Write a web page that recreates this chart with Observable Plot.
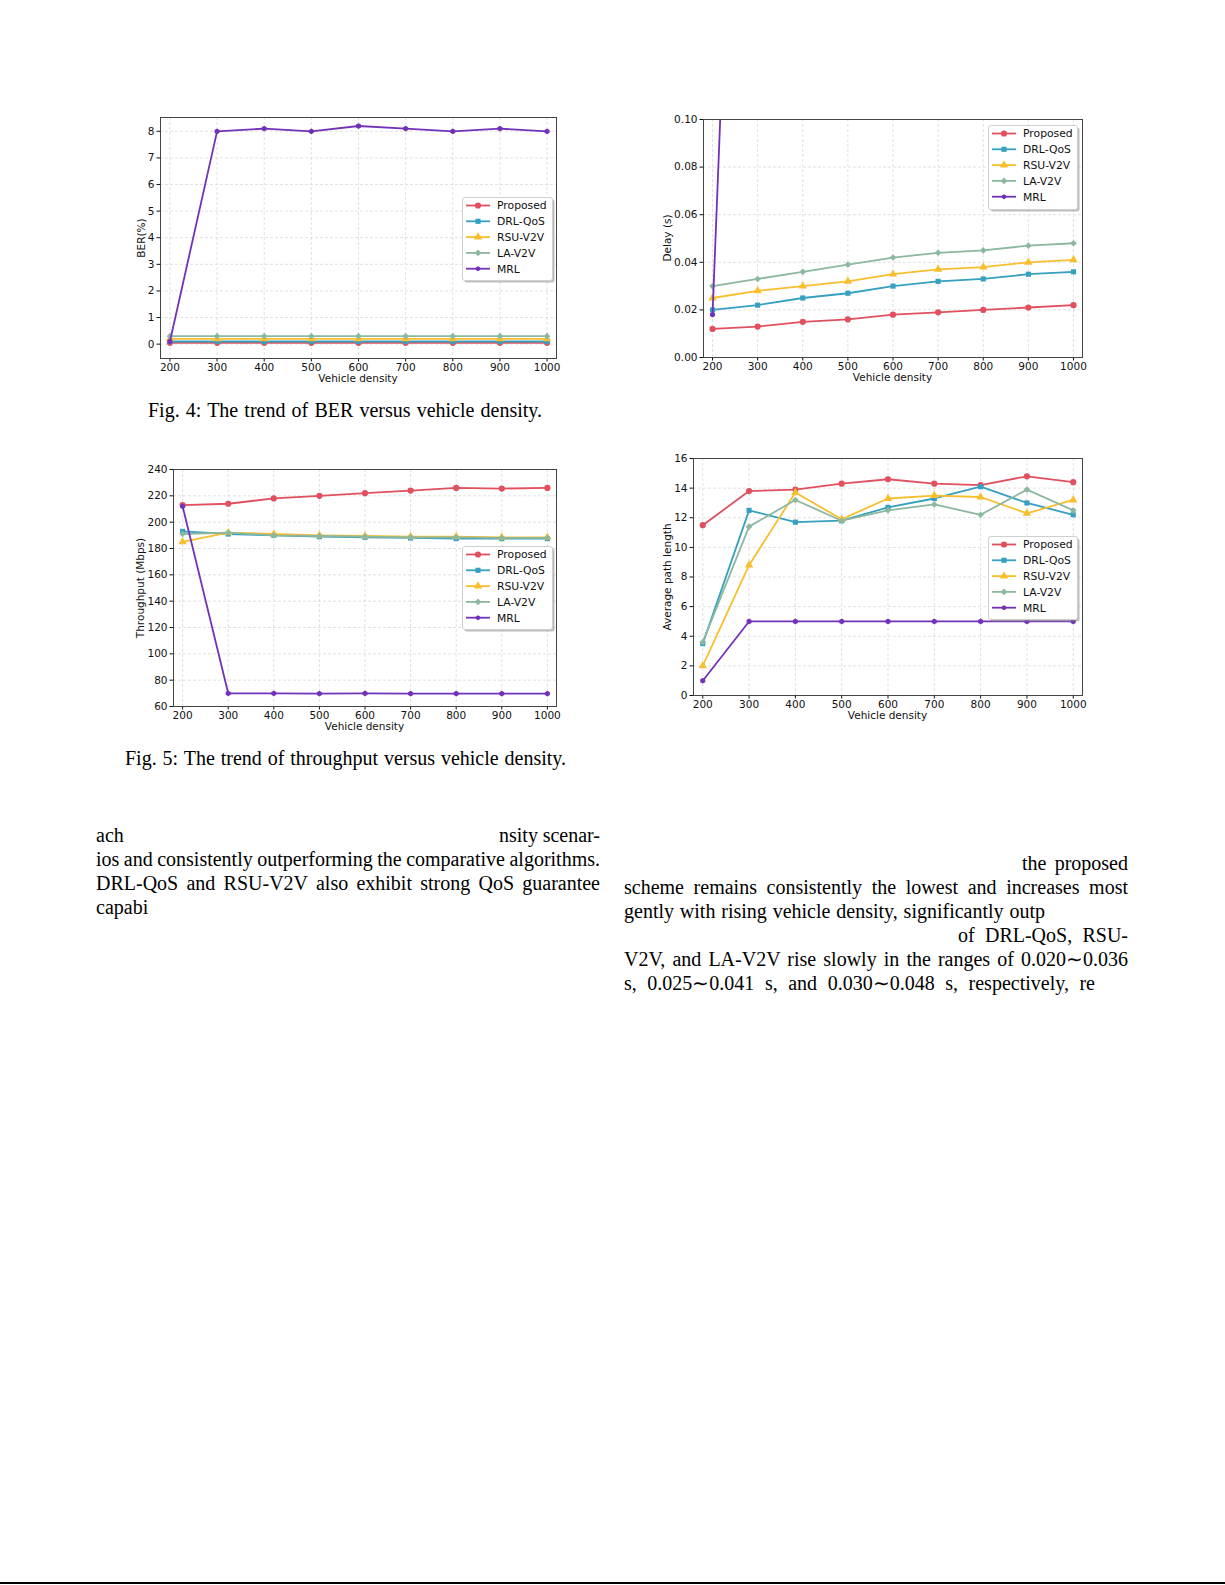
<!DOCTYPE html>
<html><head><meta charset="utf-8">
<script src="https://cdn.jsdelivr.net/npm/d3@7"></script>
<script src="https://cdn.jsdelivr.net/npm/@observablehq/plot@0.6"></script>
<style>
html,body{margin:0;padding:0;background:#fff;}
#page{position:relative;width:1225px;height:1585px;overflow:hidden;background:#fff;}
.ln{position:absolute;font-family:"Liberation Serif","Times New Roman",serif;font-size:20px;line-height:24px;height:24px;color:#000;white-space:nowrap;}
.axl{position:absolute;font-family:"DejaVu Sans",sans-serif;font-size:10.5px;color:#111;white-space:nowrap;transform:translate(-50%,-50%);}
.rot{transform:translate(-50%,-50%) rotate(-90deg);}
</style></head><body><div id="page"></div>
<script>
// ---------- data ----------
const density = [200, 300, 400, 500, 600, 700, 800, 900, 1000];
const methods = ["Proposed", "DRL-QoS", "RSU-V2V", "LA-V2V", "MRL"];

const berProposed = [0.05, 0.05, 0.05, 0.05, 0.05, 0.05, 0.05, 0.05, 0.05];
const berDRL      = [0.1, 0.1, 0.1, 0.1, 0.1, 0.1, 0.1, 0.1, 0.1];
const berRSU      = [0.2, 0.2, 0.2, 0.2, 0.2, 0.2, 0.2, 0.2, 0.2];
const berLA       = [0.3, 0.3, 0.3, 0.3, 0.3, 0.3, 0.3, 0.3, 0.3];
const berMRL      = [0.1, 8.0, 8.1, 8.0, 8.2, 8.1, 8.0, 8.1, 8.0];
const berTicks = [0, 1, 2, 3, 4, 5, 6, 7, 8];

const delayProposed = [0.012, 0.013, 0.015, 0.016, 0.018, 0.019, 0.020, 0.021, 0.022];
const delayDRL      = [0.020, 0.022, 0.025, 0.027, 0.030, 0.032, 0.033, 0.035, 0.036];
const delayRSU      = [0.025, 0.028, 0.030, 0.032, 0.035, 0.037, 0.038, 0.040, 0.041];
const delayLA       = [0.030, 0.033, 0.036, 0.039, 0.042, 0.044, 0.045, 0.047, 0.048];
const delayMRL      = [0.018, 0.5, 0.5, 0.5, 0.5, 0.5, 0.5, 0.5, 0.5];
const delayTicks = [0, 0.02, 0.04, 0.06, 0.08, 0.10];

const thrProposed = [213, 214, 218, 220, 222, 224, 226, 225.5, 226];
const thrDRL      = [193, 191, 190, 189, 188.5, 188, 187.5, 187.5, 187.5];
const thrRSU      = [185, 192, 191, 190, 189.5, 189, 189, 188.5, 188.5];
const thrLA       = [191, 192, 190, 189.5, 189, 188.5, 188.5, 188, 188];
const thrMRL      = [212, 70, 70, 69.8, 70, 69.8, 69.8, 69.8, 69.8];
const thrTicks = [60, 80, 100, 120, 140, 160, 180, 200, 220, 240];

const pathProposed = [11.5, 13.8, 13.9, 14.3, 14.6, 14.3, 14.2, 14.8, 14.4];
const pathDRL      = [3.5, 12.5, 11.7, 11.8, 12.7, 13.3, 14.1, 13.0, 12.2];
const pathRSU      = [2.0, 8.8, 13.7, 11.9, 13.3, 13.5, 13.4, 12.3, 13.2];
const pathLA       = [3.6, 11.4, 13.2, 11.8, 12.5, 12.9, 12.2, 13.9, 12.5];
const pathMRL      = [1.0, 5, 5, 5, 5, 5, 5, 5, 5];
const pathTicks = [0, 2, 4, 6, 8, 10, 12, 14, 16];

// ---------- styles ----------
const colors = ["#e0505f", "#35a0c0", "#f8be2e", "#8cb8a0", "#7232b8"];
const symbols = ["circle", "square", "triangle", "diamond2", "hexagon"];
const radii = [3.1, 2.9, 3.1, 3.0, 2.5];

const page = document.getElementById("page");

function chart(cfg) {
  const [x0, y0, x1, y1] = cfg.frame;
  const ml = 60, mr = 12, mt = 12, mb = 40;
  const w = x1 - x0, h = y1 - y0;
  const marks = [
    Plot.ruleX(density, {stroke: "#d4d4d4", strokeDasharray: "3,2", strokeWidth: 0.7}),
    Plot.ruleY(cfg.yTicks, {stroke: "#d4d4d4", strokeDasharray: "3,2", strokeWidth: 0.7})
  ];
  cfg.series.forEach((vals, i) => {
    const data = density.map((d, j) => ({x: d, y: vals[j], m: methods[i]}));
    marks.push(Plot.line(data, {x: "x", y: "y", stroke: colors[i], strokeWidth: 1.8, clip: true}));
    marks.push(Plot.dot(data, {x: "x", y: "y", fill: colors[i], stroke: "none", symbol: symbols[i], r: radii[i], clip: true}));
  });
  marks.push(Plot.frame({stroke: "#444", strokeWidth: 1}));
  const svg = Plot.plot({
    width: w + ml + mr, height: h + mt + mb,
    marginLeft: ml, marginRight: mr, marginTop: mt, marginBottom: mb,
    style: {fontFamily: "DejaVu Sans, sans-serif", fontSize: "10.5px", color: "#111", background: "transparent", overflow: "visible"},
    x: {type: "linear", domain: [180, 1020], ticks: density, tickSize: 3.5, tickPadding: 2, label: null, tickFormat: d => String(d)},
    y: {type: "linear", domain: cfg.yDomain, ticks: cfg.yTicks, tickSize: 3.5, tickPadding: 2.5, label: null, tickFormat: cfg.yFormat},
    marks
  });
  svg.style.position = "absolute";
  svg.style.left = (x0 - ml) + "px";
  svg.style.top = (y0 - mt) + "px";
  page.appendChild(svg);

  const xl = document.createElement("div");
  xl.className = "axl"; xl.textContent = "Vehicle density";
  xl.style.left = ((x0 + x1) / 2) + "px"; xl.style.top = (y1 + 20) + "px";
  page.appendChild(xl);
  const yl = document.createElement("div");
  yl.className = "axl rot"; yl.textContent = cfg.yLabel;
  yl.style.left = cfg.yLabelX + "px"; yl.style.top = ((y0 + y1) / 2) + "px";
  page.appendChild(yl);

  legend(cfg.legend);
}

const symbolHexagon = {draw(c, size) {
  const rx = Math.sqrt(size / Math.PI), ry = rx * Math.sqrt(3) / 2;
  c.moveTo(0, rx); c.lineTo(ry, rx / 2); c.lineTo(ry, -rx / 2); c.lineTo(0, -rx);
  c.lineTo(-ry, -rx / 2); c.lineTo(-ry, rx / 2); c.closePath();
}};
const symTypes = [d3.symbolCircle, d3.symbolSquare, d3.symbolTriangle, d3.symbolDiamond2, symbolHexagon];

function legend([left, top, width, height]) {
  const step = 15.8, first = 8.5;
  const svg = d3.create("svg").attr("width", width + 5).attr("height", height + 5)
    .style("position", "absolute").style("left", left + "px").style("top", top + "px").style("overflow", "visible");
  svg.append("rect").attr("x", 2.5).attr("y", 2.5).attr("width", width).attr("height", height).attr("rx", 2.5)
    .attr("fill", "#888").attr("fill-opacity", 0.55);
  svg.append("rect").attr("x", 0.5).attr("y", 0.5).attr("width", width).attr("height", height).attr("rx", 2.5)
    .attr("fill", "#fff").attr("stroke", "#cfcfcf");
  methods.forEach((m, i) => {
    const y = first + i * step;
    svg.append("line").attr("x1", 4).attr("x2", 28).attr("y1", y).attr("y2", y).attr("stroke", colors[i]).attr("stroke-width", 1.8);
    svg.append("path").attr("transform", `translate(16,${y})`)
      .attr("d", d3.symbol(symTypes[i], Math.PI * radii[i] * radii[i])()).attr("fill", colors[i]);
    svg.append("text").attr("x", 35).attr("y", y).attr("dy", "0.36em").text(m)
      .style("font-family", "DejaVu Sans, sans-serif").style("font-size", "10.8px").attr("fill", "#111");
  });
  page.appendChild(svg.node());
}

chart({frame: [160, 117, 556, 358], yDomain: [-0.54, 8.52], yTicks: berTicks, yFormat: d => String(d),
  series: [berProposed, berDRL, berRSU, berLA, berMRL], yLabel: "BER(%)", yLabelX: 141,
  legend: [462, 197, 90, 83]});
chart({frame: [703, 119, 1082, 357], yDomain: [0, 0.1], yTicks: delayTicks, yFormat: d3.format(".2f"),
  series: [delayProposed, delayDRL, delayRSU, delayLA, delayMRL], yLabel: "Delay (s)", yLabelX: 667,
  legend: [988, 125, 89, 84]});
chart({frame: [173, 469, 556, 706], yDomain: [60, 240], yTicks: thrTicks, yFormat: d => String(d),
  series: [thrProposed, thrDRL, thrRSU, thrLA, thrMRL], yLabel: "Throughput (Mbps)", yLabelX: 140,
  legend: [462, 546, 90, 83]});
chart({frame: [693, 458, 1082, 695], yDomain: [0, 16], yTicks: pathTicks, yFormat: d => String(d),
  series: [pathProposed, pathDRL, pathRSU, pathLA, pathMRL], yLabel: "Average path length", yLabelX: 667,
  legend: [988, 536, 89, 83]});

// ---------- captions and text ----------
// A line is placed at a left edge and baseline; if a width is given, word spacing
// is adjusted so the line spans exactly that width (justified).
function line(text, left, baseline, width) {
  const d = document.createElement("div");
  d.className = "ln";
  const s = document.createElement("span");
  s.textContent = text;
  d.appendChild(s);
  d.style.left = left + "px";
  d.style.top = (baseline - 19) + "px";
  page.appendChild(d);
  if (width) {
    const nat = s.getBoundingClientRect().width;
    const spaces = (text.match(/ /g) || []).length;
    if (spaces > 0) d.style.wordSpacing = ((width - nat) / spaces) + "px";
  }
}
line("Fig. 4: The trend of BER versus vehicle density.", 148, 417, 394);
line("Fig. 5: The trend of throughput versus vehicle density.", 125, 765, 441);

line("ach", 96, 842);
line("nsity scenar-", 499, 842, 101);
line("ios and consistently outperforming the comparative algorithms.", 96, 866, 504);
line("DRL-QoS and RSU-V2V also exhibit strong QoS guarantee", 96, 890, 504);
line("capabi", 96, 914);

line("the proposed", 1022, 870, 106);
line("scheme remains consistently the lowest and increases most", 624, 894, 504);
line("gently with rising vehicle density, significantly outp", 624, 918, 421);
line("of DRL-QoS, RSU-", 958, 942, 170);
line("V2V, and LA-V2V rise slowly in the ranges of 0.020\u223C0.036", 624, 966, 504);
line("s, 0.025\u223C0.041 s, and 0.030\u223C0.048 s, respectively, re", 624, 990, 471);

const rule = document.createElement("div");
rule.style.cssText = "position:absolute;left:0;top:1582px;width:1225px;height:2px;background:#000;";
page.appendChild(rule);
</script>
</body></html>
